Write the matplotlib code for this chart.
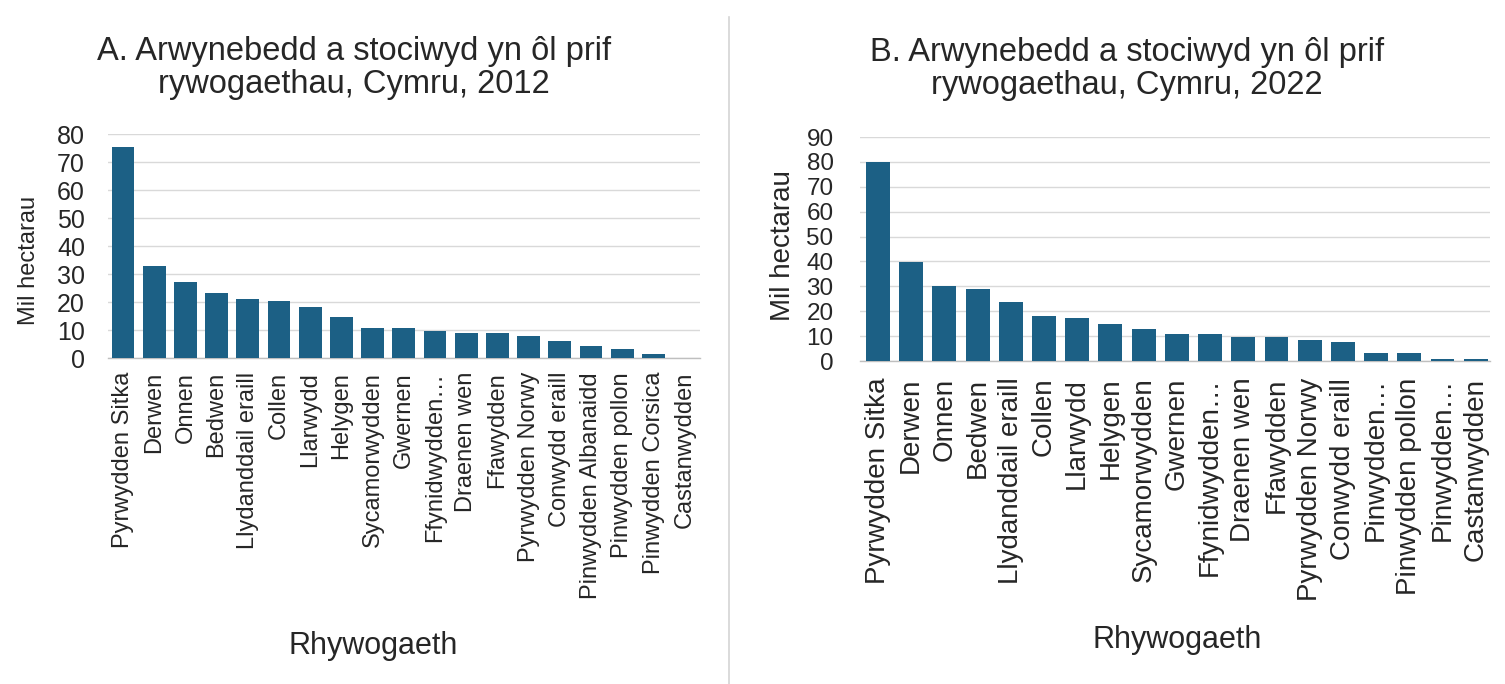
import matplotlib
matplotlib.use("Agg")
import matplotlib.pyplot as plt

# ---- data ----
categories_2012 = ["Pyrwydden Sitka", "Derwen", "Onnen", "Bedwen", "Llydanddail eraill",
                   "Collen", "Llarwydd", "Helygen", "Sycamorwydden", "Gwernen",
                   "Ffynidwydden…", "Draenen wen", "Ffawydden", "Pyrwydden Norwy",
                   "Conwydd eraill", "Pinwydden Albanaidd", "Pinwydden pollon",
                   "Pinwydden Corsica", "Castanwydden"]
values_2012 = [75.5, 32.7, 27.0, 23.2, 21.2, 20.3, 18.3, 14.5, 10.7, 10.7,
               9.8, 8.9, 8.9, 8.0, 6.1, 4.2, 3.2, 1.3, 0.1]

categories_2022 = ["Pyrwydden Sitka", "Derwen", "Onnen", "Bedwen", "Llydanddail eraill",
                   "Collen", "Llarwydd", "Helygen", "Sycamorwydden", "Gwernen",
                   "Ffynidwydden…", "Draenen wen", "Ffawydden", "Pyrwydden Norwy",
                   "Conwydd eraill", "Pinwydden…", "Pinwydden pollon",
                   "Pinwydden…", "Castanwydden"]
values_2022 = [79.8, 39.8, 30.1, 29.0, 23.6, 18.2, 17.1, 15.0, 12.9, 10.8,
               10.8, 9.6, 9.6, 8.6, 7.5, 3.2, 3.2, 0.9, 0.9]

yticks_2012 = [0, 10, 20, 30, 40, 50, 60, 70, 80]
yticks_2022 = [0, 10, 20, 30, 40, 50, 60, 70, 80, 90]

title_2012 = "A. Arwynebedd a stociwyd yn ôl prif\nrywogaethau, Cymru, 2012"
title_2022 = "B. Arwynebedd a stociwyd yn ôl prif\nrywogaethau, Cymru, 2022"
xlabel = "Rhywogaeth"
ylabel = "Mil hectarau"

# ---- style ----
plt.rcParams['font.family'] = ['Liberation Sans', 'DejaVu Sans']
BAR = '#1c6085'
GRID = '#d9d9d9'
TXT = '#262626'

W, H = 1505, 684
fig = plt.figure(figsize=(W / 100, H / 100), dpi=100)
fig.patch.set_facecolor('white')


def rect(l, t, r, b):
    return [l / W, 1 - b / H, (r - l) / W, (b - t) / H]


def panel(box, cats, vals, yticks, xlim, tick_fs, tick_pad, ytick_fs, ytick_pad, width):
    ax = fig.add_axes(rect(*box))
    x = list(range(len(cats)))
    ax.bar(x, vals, width=width, color=BAR, zorder=3)
    ax.set_ylim(0, yticks[-1])
    ax.set_xlim(*xlim)
    ax.set_yticks(yticks)
    ax.set_yticklabels([str(v) for v in yticks])
    ax.set_xticks(x)
    ax.set_xticklabels(cats, rotation=90, ha='center', va='top')
    ax.tick_params(axis='x', length=0, pad=tick_pad, labelsize=tick_fs, colors=TXT)
    ax.tick_params(axis='y', length=0, pad=ytick_pad, labelsize=ytick_fs, colors=TXT)
    for s in ['top', 'right', 'left']:
        ax.spines[s].set_visible(False)
    ax.spines['bottom'].set_color('#bfbfbf')
    ax.spines['bottom'].set_linewidth(1.0)
    ax.yaxis.grid(True, color=GRID, linewidth=1.0, zorder=0)
    ax.set_axisbelow(True)
    return ax


axA = panel((108, 134, 700, 358), categories_2012, values_2012, yticks_2012,
            (-0.48, 18.49), 17, 10, 18, 16.5, 0.73)
axB = panel((860, 137, 1490, 361), categories_2022, values_2022, yticks_2022,
            (-0.54, 18.43), 20, 12, 17.5, 19, 0.72)

# titles
fig.text(354 / W, 1 - 68 / H, title_2012, ha='center', va='center',
         fontsize=23.5, color=TXT, linespacing=1.12)
fig.text(1127 / W, 1 - 69 / H, title_2022, ha='center', va='center',
         fontsize=23.5, color=TXT, linespacing=1.12)

# axis labels
fig.text(373 / W, 1 - 646 / H, xlabel, ha='center', va='center', fontsize=22, color=TXT)
fig.text(1177 / W, 1 - 640 / H, xlabel, ha='center', va='center', fontsize=22, color=TXT)
fig.text(29 / W, 1 - 260 / H, ylabel, ha='center', va='center', rotation=90,
         fontsize=17, color=TXT)
fig.text(783 / W, 1 - 246 / H, ylabel, ha='center', va='center', rotation=90,
         fontsize=20, color=TXT)

# divider line between the panels
fig.add_artist(plt.Line2D([729 / W, 729 / W], [0, 1 - 17 / H],
                          transform=fig.transFigure, color='#d4d4d4', linewidth=1.2))

fig.savefig('out.png', dpi=100, facecolor='white')
